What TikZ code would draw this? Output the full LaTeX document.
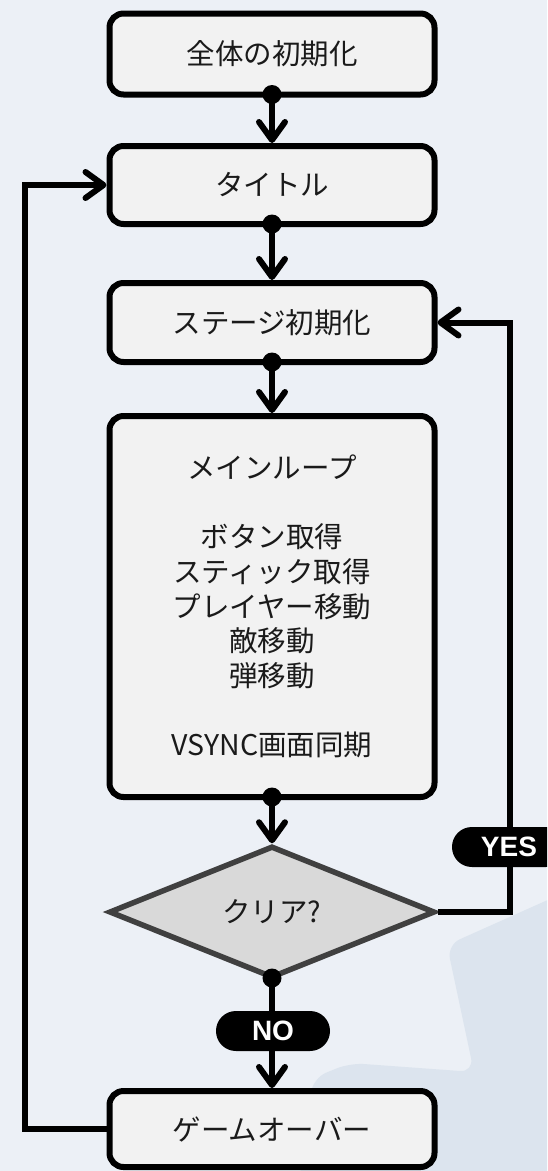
\documentclass[tikz,border=0pt]{standalone}
\usepackage{fontspec}
\setmainfont{Noto Sans CJK JP}
\newfontfamily\labfont{Liberation Sans}
\usetikzlibrary{shapes.geometric,arrows.meta,calc}
\definecolor{bgc}{HTML}{ECF0F6}
\definecolor{blobc}{HTML}{DCE4EE}
\definecolor{boxfill}{HTML}{F2F2F2}
\definecolor{dfill}{HTML}{D9D9D9}
\definecolor{dline}{HTML}{404040}
\definecolor{txt}{HTML}{1A1A1A}
\begin{document}
\begin{tikzpicture}[x=1pt,y=-1pt,
  jpfont/.style={font=\fontsize{28.5pt}{34.6pt}\selectfont},
  stepbox/.style={draw=black, line width=6pt, fill=boxfill, rounded corners=14pt,
    minimum width=325pt, inner sep=0pt, text=txt, align=center, jpfont},
  decision/.style={diamond, draw=dline, line width=5.5pt, fill=dfill,
    minimum width=326pt, minimum height=132pt, inner sep=0pt, aspect=2.47,
    text=txt, jpfont},
  conn/.style={draw=black, line width=6pt, -{Straight Barb[length=18pt,width=26pt,round]}},
  dotc/.style={fill=black},
  pill/.style={fill=black, rounded corners=19.9pt, minimum width=114pt,
    minimum height=40pt, inner sep=0pt, text=white,
    font=\labfont\bfseries\fontsize{28pt}{30pt}\selectfont}
]
\useasboundingbox (0,0) rectangle (547,1171);
\clip (0,0) rectangle (547,1171);
\fill[bgc] (0,0) rectangle (547,1171);
\fill[blobc, rounded corners=14pt] (447,945) -- (570,890) -- (570,1190) -- (298,1190)
  -- (313,1078) -- (350,1063) -- (474,1072) -- cycle;

\node[stepbox, minimum height=81pt] (init) at (272,54) {全体の初期化};
\node[stepbox, minimum height=78pt] (title) at (272,185) {タイトル};
\node[stepbox, minimum height=79pt] (stage) at (272,322.5) {ステージ初期化};
\node[stepbox, minimum height=381pt] (main) at (272,606.5)
  {メインループ\\[34.6pt]ボタン取得\\スティック取得\\プレイヤー移動\\敵移動\\弾移動\\[34.6pt]VSYNC画面同期};
\node[decision] (clear) at (272,912) {クリア?};
\node[stepbox, minimum height=76pt] (over) at (272,1129) {ゲームオーバー};

\coordinate (rtop) at (510,322.5);
\coordinate (ltop) at (25,185);

\draw[conn] (init.south) -- (title.north);
\fill[dotc] ([yshift=3pt]init.south) circle[radius=9.5pt];
\draw[conn] (title.south) -- (stage.north);
\fill[dotc] ([yshift=3pt]title.south) circle[radius=9.5pt];
\draw[conn] (stage.south) -- (main.north);
\fill[dotc] ([yshift=3pt]stage.south) circle[radius=9.5pt];
\draw[conn] (main.south) -- (clear.north);
\fill[dotc] ([yshift=3pt]main.south) circle[radius=9.5pt];
\draw[conn] (clear.south) -- (over.north);
\fill[dotc] ([yshift=2.75pt]clear.south) circle[radius=9.5pt];
\draw[conn] (clear.east) -| (rtop) -- (stage.east);
\draw[conn] (over.west) -| (ltop) -- (title.west);

\node[pill] (yes) at (509,847) {YES};
\node[pill] (no) at (273,1031) {NO};
\end{tikzpicture}
\end{document}
